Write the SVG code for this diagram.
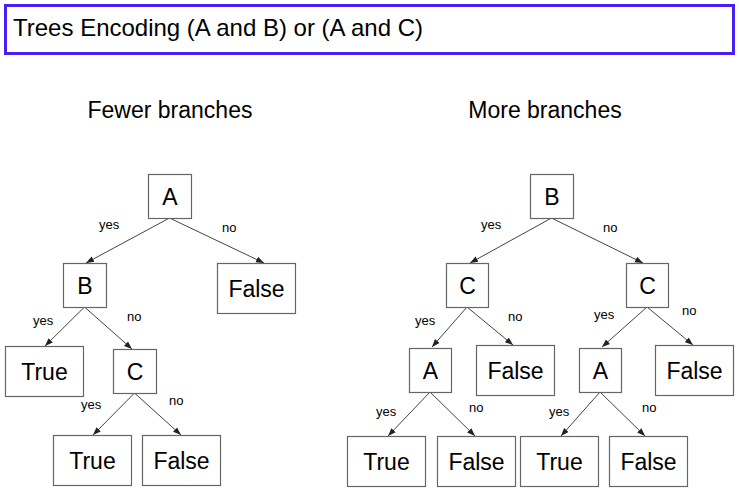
<svg xmlns="http://www.w3.org/2000/svg" width="739" height="494" viewBox="0 0 739 494">
<style>
text{font-family:"Liberation Sans",Arial,sans-serif;fill:#000}
.n rect{fill:#fff;stroke:#666;stroke-width:1.2}
.n text{font-size:23px;text-anchor:middle}
.h{font-size:23px;text-anchor:middle}
.l{font-size:13px}
#edges line{stroke:#444;stroke-width:1;marker-end:url(#ah)}
</style>
<defs>
<marker id="ah" markerUnits="userSpaceOnUse" markerWidth="8" markerHeight="8" viewBox="0 0 8 8" refX="8" refY="4" orient="auto">
<path d="M0,1 L8,4 L0,7 Z" fill="#222"/>
</marker>
</defs>
<rect width="739" height="494" fill="#fff"/>
<g id="title">
<rect x="5.5" y="5.5" width="728" height="48" fill="#fff" stroke="#4a1ef2" stroke-width="3"/>
<text x="13" y="36" font-size="24">Trees Encoding (A and B) or (A and C)</text>
</g>
<text class="h" x="170" y="118">Fewer branches</text>
<text class="h" x="545" y="118">More branches</text>
<g id="edges">
<line x1="169.5" y1="218" x2="86" y2="263"/>
<line x1="169.5" y1="218" x2="264" y2="263"/>
<line x1="84.5" y1="307" x2="45" y2="346"/>
<line x1="84.5" y1="307" x2="132" y2="349"/>
<line x1="134.5" y1="393" x2="93" y2="435"/>
<line x1="134.5" y1="393" x2="181" y2="435"/>
<line x1="551.5" y1="218" x2="470" y2="263"/>
<line x1="551.5" y1="218" x2="643" y2="263"/>
<line x1="467" y1="307" x2="432" y2="347"/>
<line x1="467" y1="307" x2="513" y2="345"/>
<line x1="647" y1="307" x2="602" y2="347"/>
<line x1="647" y1="307" x2="693" y2="345"/>
<line x1="430" y1="392" x2="388" y2="436"/>
<line x1="430" y1="392" x2="475" y2="436"/>
<line x1="600" y1="392" x2="561" y2="436"/>
<line x1="600" y1="392" x2="645" y2="436"/>
<text class="l" x="99" y="229">yes</text>
<text class="l" x="222" y="232">no</text>
<text class="l" x="33" y="325">yes</text>
<text class="l" x="127" y="321">no</text>
<text class="l" x="81" y="409">yes</text>
<text class="l" x="169" y="405">no</text>
<text class="l" x="481" y="229">yes</text>
<text class="l" x="603" y="232">no</text>
<text class="l" x="415" y="325">yes</text>
<text class="l" x="508" y="321">no</text>
<text class="l" x="594" y="319">yes</text>
<text class="l" x="682" y="315">no</text>
<text class="l" x="376" y="416">yes</text>
<text class="l" x="469" y="412">no</text>
<text class="l" x="549" y="416">yes</text>
<text class="l" x="642" y="412">no</text>
</g>
<g id="L_A" class="n"><rect x="148.5" y="174.5" width="43" height="44"/><text x="170" y="205">A</text></g>
<g id="L_B" class="n"><rect x="63.5" y="263.5" width="43" height="44"/><text x="85" y="294">B</text></g>
<g id="L_False1" class="n"><rect x="217.5" y="263.5" width="78" height="50"/><text x="256.5" y="297">False</text></g>
<g id="L_True1" class="n"><rect x="5.5" y="346.5" width="78" height="50"/><text x="44.5" y="380">True</text></g>
<g id="L_C" class="n"><rect x="113.5" y="349.5" width="43" height="44"/><text x="135" y="380">C</text></g>
<g id="L_True2" class="n"><rect x="53.5" y="435.5" width="78" height="50"/><text x="92.5" y="469">True</text></g>
<g id="L_False2" class="n"><rect x="142.5" y="435.5" width="78" height="50"/><text x="181.5" y="469">False</text></g>
<g id="R_B" class="n"><rect x="530.5" y="174.5" width="43" height="44"/><text x="552" y="205">B</text></g>
<g id="R_C1" class="n"><rect x="446.5" y="263.5" width="42" height="44"/><text x="467.5" y="294">C</text></g>
<g id="R_C2" class="n"><rect x="626.5" y="263.5" width="42" height="44"/><text x="647.5" y="294">C</text></g>
<g id="R_A1" class="n"><rect x="409.5" y="348.5" width="42" height="44"/><text x="430.5" y="379">A</text></g>
<g id="R_False1" class="n"><rect x="476.5" y="345.5" width="78" height="50"/><text x="515.5" y="379">False</text></g>
<g id="R_A2" class="n"><rect x="579.5" y="348.5" width="42" height="44"/><text x="600.5" y="379">A</text></g>
<g id="R_False2" class="n"><rect x="655.5" y="345.5" width="78" height="50"/><text x="694.5" y="379">False</text></g>
<g id="R_True1" class="n"><rect x="347.5" y="436.5" width="78" height="50"/><text x="386.5" y="470">True</text></g>
<g id="R_False3" class="n"><rect x="437.5" y="436.5" width="78" height="50"/><text x="476.5" y="470">False</text></g>
<g id="R_True2" class="n"><rect x="520.5" y="436.5" width="78" height="50"/><text x="559.5" y="470">True</text></g>
<g id="R_False4" class="n"><rect x="609.5" y="436.5" width="78" height="50"/><text x="648.5" y="470">False</text></g>
</svg>
